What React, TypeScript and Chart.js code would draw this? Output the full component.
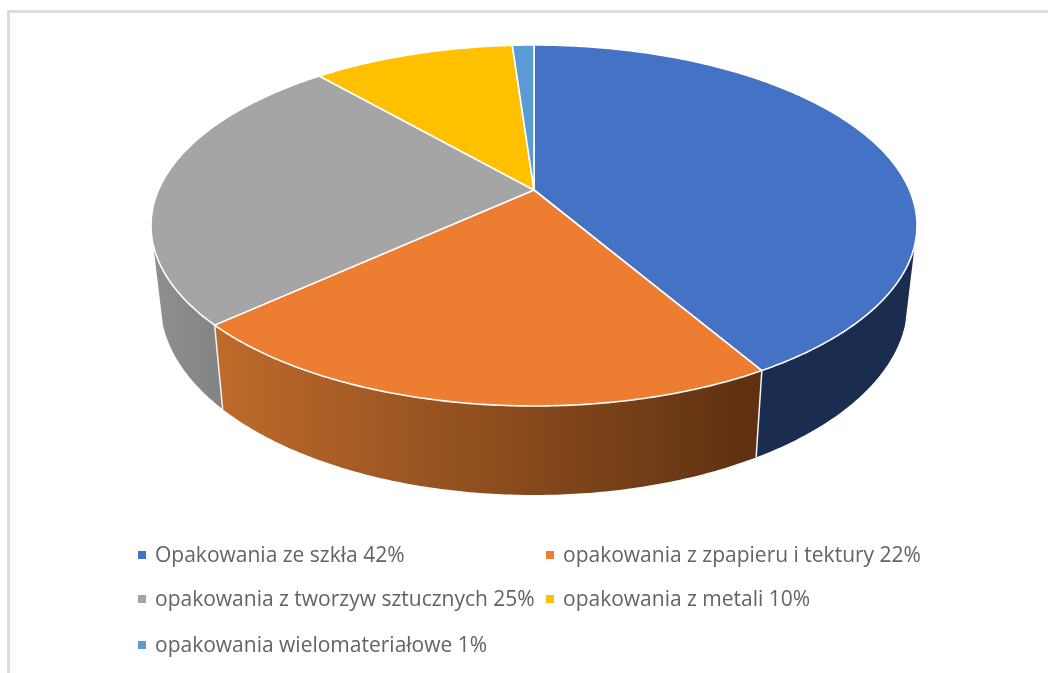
import React, { useEffect, useRef } from "react";
import { Chart, registerables } from "chart.js";

Chart.register(...registerables);

const categories = [
  "Opakowania ze szkła 42%",
  "opakowania z zpapieru i tektury 22%",
  "opakowania z tworzyw sztucznych 25%",
  "opakowania z metali 10%",
  "opakowania wielomateriałowe 1%",
];
const shares = [41.6, 21.6, 25.4, 10.3, 1.1];
const topColors = ["#4472C4", "#ED7D31", "#A5A5A5", "#FFC000", "#5B9BD5"];
const wallLeftColors = ["#1A2D50", "#BF6B2B", "#8F8F8F", "#997300", "#2E75B6"];
const wallRightColors = ["#1A2D50", "#5D3011", "#838383", "#997300", "#2E75B6"];
const legendX = [138, 546, 138, 546, 138];
const legendY = [555, 555, 599, 599, 645];

const CX = 534, CY = 190, A = 375.5, B = 173.5, K = 0.1967;
const WALL_MIN = 0.298;

const top = (ang: number) => {
  const X = Math.cos(ang), Y = Math.sin(ang);
  const w = 1 - K * Y;
  return [CX + (A * X) / w, CY + (B * Y) / w];
};
const lower = (p: number[]) => [CX + (p[0] - CX) * 0.975, p[1] + 89 + (p[1] - 406) * 0.0617];

const arcPts = (a: number, b: number) => {
  const n = Math.max(2, Math.ceil((b - a) / 0.01));
  const out: number[] = [];
  for (let i = 0; i <= n; i++) out.push(a + ((b - a) * i) / n);
  return out;
};

const pie3d = {
  id: "pie3d",
  beforeDatasetDraw() {
    return false;
  },
  afterDatasetsDraw(chart: any) {
    const ctx = chart.ctx;
    const arcs = chart.getDatasetMeta(0).data;
    const wallFrom = Math.asin(WALL_MIN);
    const wallTo = Math.PI - wallFrom;
    ctx.save();
    ctx.lineJoin = "round";
    // walls
    arcs.forEach((el: any, i: number) => {
      const a = Math.max(el.startAngle, wallFrom);
      const b = Math.min(el.endAngle, wallTo);
      if (b <= a) return;
      const ts = arcPts(a, b).map(top);
      const bs = ts.map(lower).reverse();
      const all = [...ts, ...bs];
      const xs = all.map((p) => p[0]);
      const g = ctx.createLinearGradient(Math.min(...xs), 0, Math.max(...xs), 0);
      g.addColorStop(0, wallLeftColors[i]);
      g.addColorStop(1, wallRightColors[i]);
      ctx.beginPath();
      all.forEach((p, j) => (j ? ctx.lineTo(p[0], p[1]) : ctx.moveTo(p[0], p[1])));
      ctx.closePath();
      ctx.fillStyle = g;
      ctx.fill();
    });
    // wall separators
    ctx.strokeStyle = "#F2F2F2";
    ctx.lineWidth = 1.5;
    arcs.forEach((el: any) => {
      const ang = el.endAngle;
      if (ang > wallFrom && ang < wallTo) {
        const p = top(ang), q = lower(p);
        ctx.beginPath();
        ctx.moveTo(p[0], p[1]);
        ctx.lineTo(q[0], q[1]);
        ctx.stroke();
      }
    });
    // top slices
    arcs.forEach((el: any, i: number) => {
      ctx.beginPath();
      ctx.moveTo(CX, CY);
      arcPts(el.startAngle, el.endAngle).map(top).forEach((p) => ctx.lineTo(p[0], p[1]));
      ctx.closePath();
      ctx.fillStyle = topColors[i];
      ctx.fill();
      ctx.strokeStyle = "#FFFFFF";
      ctx.lineWidth = 1.6;
      ctx.stroke();
    });
    ctx.restore();
  },
};

export default function App() {
  const ref = useRef<HTMLCanvasElement>(null);
  useEffect(() => {
    document.body.style.margin = "0";
    const chart = new Chart(ref.current!, {
      type: "pie",
      data: { labels: categories, datasets: [{ data: shares, backgroundColor: topColors }] },
      options: {
        animation: false,
        responsive: false,
        devicePixelRatio: 1,
        plugins: { legend: { display: false }, tooltip: { enabled: false } },
      },
      plugins: [pie3d],
    } as any);
    return () => chart.destroy();
  }, []);
  return (
    <div style={{ position: "relative", width: 1048, height: 673, overflow: "hidden", background: "#fff", filter: "blur(0.4px)" }}>
      <div style={{ position: "absolute", left: 7, top: 10, width: 1100, height: 800, border: "3px solid #DBDBDB" }} />
      <canvas ref={ref} width={1048} height={673} style={{ position: "absolute", left: 0, top: 0 }} />
      {categories.map((c, i) => (
        <React.Fragment key={c}>
          <div style={{ position: "absolute", left: legendX[i], top: legendY[i] - 4, width: 8, height: 8, background: topColors[i] }} />
          <div
            style={{
              position: "absolute",
              left: legendX[i] + 17,
              top: legendY[i] - 16,
              height: 30,
              font: "21px/30px 'Open Sans'",
              color: "#636363",
              whiteSpace: "nowrap",
            }}
          >
            {c}
          </div>
        </React.Fragment>
      ))}
    </div>
  );
}
